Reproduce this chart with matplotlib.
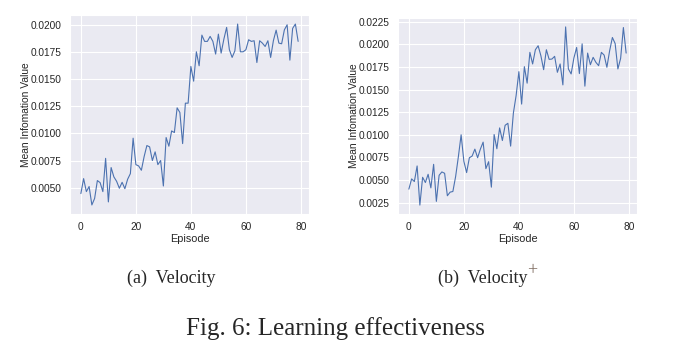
import matplotlib
matplotlib.use("Agg")
import matplotlib.pyplot as plt
import seaborn as sns
import numpy as np

episodes = list(range(80))

velocity = [
    0.00445, 0.00583, 0.00463, 0.00510, 0.00340, 0.00400, 0.00565, 0.00546, 0.00463, 0.00770,
    0.00368, 0.00685, 0.00599, 0.00558, 0.00494, 0.00549, 0.00490, 0.00577, 0.00629, 0.00956,
    0.00712, 0.00700, 0.00660, 0.00786, 0.00888, 0.00876, 0.00750, 0.00830, 0.00712, 0.00750,
    0.00515, 0.00962, 0.00882, 0.01023, 0.01008, 0.01236, 0.01193, 0.00906, 0.01279, 0.01279,
    0.01618, 0.01482, 0.01753, 0.01624, 0.01907, 0.01849, 0.01849, 0.01895, 0.01849, 0.01732,
    0.01916, 0.01741, 0.01870, 0.01978, 0.01772, 0.01701, 0.01762, 0.02009, 0.01753, 0.01753,
    0.01772, 0.01864, 0.01849, 0.01855, 0.01654, 0.01855, 0.01833, 0.01802, 0.01855, 0.01701,
    0.01855, 0.01953, 0.01833, 0.01827, 0.01956, 0.02002, 0.01676, 0.01969, 0.02009, 0.01849,
]

velocity_plus = [
    0.00400, 0.00513, 0.00484, 0.00656, 0.00224, 0.00531, 0.00473, 0.00564, 0.00414, 0.00674,
    0.00265, 0.00553, 0.00590, 0.00575, 0.00327, 0.00367, 0.00374, 0.00539, 0.00758, 0.01000,
    0.00707, 0.00583, 0.00747, 0.00765, 0.00842, 0.00747, 0.00842, 0.00919, 0.00626, 0.00703,
    0.00422, 0.01003, 0.00846, 0.01076, 0.00937, 0.01105, 0.01127, 0.00875, 0.01240, 0.01434,
    0.01697, 0.01339, 0.01752, 0.01570, 0.01910, 0.01782, 0.01939, 0.01983, 0.01873, 0.01719,
    0.01939, 0.01833, 0.01836, 0.01866, 0.01690, 0.01782, 0.01551, 0.02191, 0.01727, 0.01672,
    0.01847, 0.01964, 0.01676, 0.02004, 0.01537, 0.01902, 0.01774, 0.01855, 0.01800, 0.01763,
    0.01910, 0.01880, 0.01745, 0.01928, 0.02074, 0.02008, 0.01727, 0.01844, 0.02184, 0.01902,
]

xlabel = "Episode"
ylabel = "Mean Infomation Value"
sub_a = "(a)  Velocity"
sub_b = "(b)  Velocity"
fig_caption = "Fig. 6: Learning effectiveness"

sns.set_style("darkgrid")
plt.rcParams['font.family'] = ['Liberation Sans', 'DejaVu Sans']

W, H = 681, 358
fig = plt.figure(figsize=(W / 100, H / 100), dpi=100)

def px_axes(l, t, r, b):
    return fig.add_axes([l / W, 1 - b / H, (r - l) / W, (b - t) / H])

ax1 = px_axes(70, 15, 309, 214)
ax2 = px_axes(398, 18, 637, 214)

fmt = matplotlib.ticker.FormatStrFormatter('%.4f')
for ax, data in ((ax1, velocity), (ax2, velocity_plus)):
    ax.plot(episodes, data, color='#4c72b0', lw=0.8)
    ax.set_xlabel(xlabel, fontsize=7.8, labelpad=1, color='#262626')
    ax.set_ylabel(ylabel, fontsize=7.4, labelpad=0, color='#262626')
    ax.tick_params(labelsize=7.3, pad=2.5, colors='#262626')
    ax.yaxis.set_major_formatter(fmt)
    ax.set_xticks([0, 20, 40, 60, 80])

ax1.set_yticks([0.005, 0.0075, 0.01, 0.0125, 0.015, 0.0175, 0.02])
ax2.set_yticks([0.0025, 0.005, 0.0075, 0.01, 0.0125, 0.015, 0.0175, 0.02, 0.0225])

serif = ['Liberation Serif', 'DejaVu Serif']
fig.text(171 / W, 1 - 278 / H, sub_a, family=serif, fontsize=13, ha='center', va='center')
tb = fig.text(438 / W, 1 - 278 / H, sub_b, family=serif, fontsize=13, ha='left', va='center')
fig.canvas.draw()
bb = tb.get_window_extent()
fig.text((bb.x1 - 0.5) / W, 1 - 271 / H, "+", family=serif, fontsize=13, color='#7d6a5e',
         ha='left', va='center')
fig.text(335 / W, 1 - 329 / H, fig_caption, family=serif, fontsize=18, ha='center', va='center')

fig.savefig("out.png", dpi=100)
